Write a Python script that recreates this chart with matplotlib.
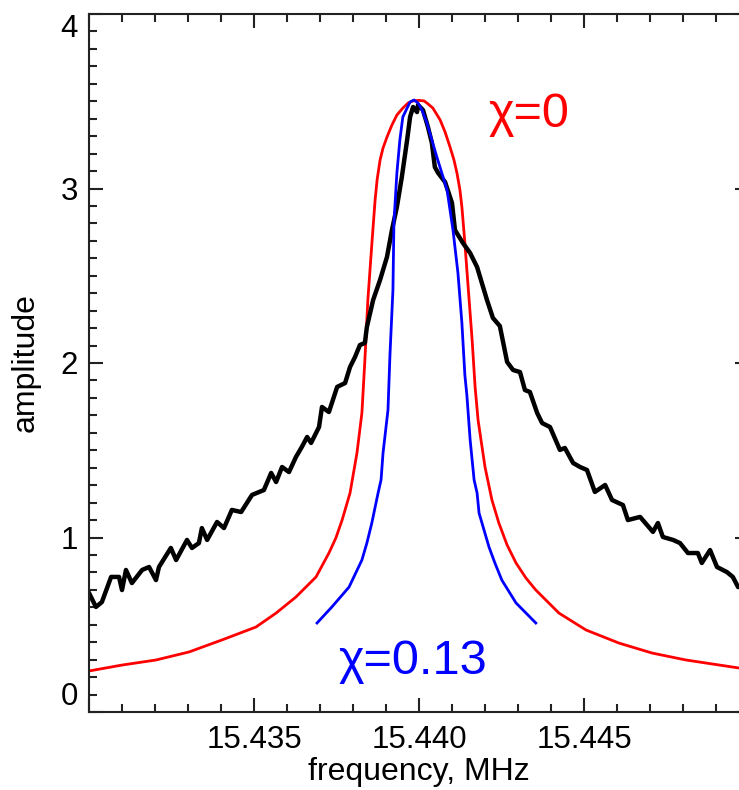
import matplotlib
matplotlib.use("Agg")
import matplotlib.pyplot as plt
from matplotlib.ticker import MultipleLocator

plt.rcParams['font.family'] = ['Liberation Sans', 'DejaVu Sans']

# measured response (black)
freq_meas = [15.43000, 15.43021, 15.43039, 15.43067, 15.43091, 15.43100, 15.43112, 15.43130,
             15.43161, 15.43182, 15.43203, 15.43212, 15.43248, 15.43264, 15.43297, 15.43312,
             15.43333, 15.43342, 15.43358, 15.43388, 15.43409, 15.43433, 15.43461, 15.43494,
             15.43530, 15.43552, 15.43567, 15.43585, 15.43606, 15.43627, 15.43645, 15.43661,
             15.43673, 15.43697, 15.43706, 15.43727, 15.43752, 15.43776, 15.43791, 15.43806,
             15.43821, 15.43836, 15.43842, 15.43861, 15.43882, 15.43903, 15.43918, 15.43933,
             15.43948, 15.43964, 15.43973, 15.43982, 15.43994, 15.43997, 15.44012, 15.44027,
             15.44039, 15.44048, 15.44058, 15.44079, 15.44100, 15.44109, 15.44133, 15.44155,
             15.44176, 15.44185, 15.44206, 15.44224, 15.44245, 15.44267, 15.44285, 15.44306,
             15.44321, 15.44336, 15.44358, 15.44373, 15.44397, 15.44427, 15.44442, 15.44467,
             15.44488, 15.44509, 15.44533, 15.44564, 15.44585, 15.44618, 15.44633, 15.44670,
             15.44709, 15.44724, 15.44739, 15.44770, 15.44791, 15.44815, 15.44845, 15.44857,
             15.44882, 15.44903, 15.44933, 15.44951, 15.44967, 15.44988]
amp_meas = [0.682, 0.602, 0.630, 0.774, 0.774, 0.699, 0.814, 0.739,
            0.814, 0.831, 0.756, 0.831, 0.940, 0.871, 0.986, 0.940,
            0.968, 1.054, 0.986, 1.089, 1.054, 1.158, 1.146, 1.244,
            1.272, 1.370, 1.318, 1.404, 1.375, 1.461, 1.519, 1.576,
            1.542, 1.633, 1.748, 1.719, 1.863, 1.885, 1.977, 2.034,
            2.103, 2.115, 2.206, 2.361, 2.476, 2.608, 2.762, 2.894,
            3.066, 3.278, 3.410, 3.467, 3.438, 3.479, 3.450, 3.353,
            3.261, 3.123, 3.089, 3.037, 2.917, 2.762, 2.688, 2.630,
            2.550, 2.493, 2.361, 2.258, 2.212, 2.006, 1.960, 1.948,
            1.845, 1.834, 1.714, 1.656, 1.633, 1.502, 1.513, 1.427,
            1.404, 1.387, 1.261, 1.301, 1.215, 1.186, 1.100, 1.118,
            1.032, 1.083, 1.003, 0.986, 0.968, 0.911, 0.911, 0.854,
            0.928, 0.831, 0.802, 0.774, 0.716, 0.728]

# model, chi = 0 (red)
freq_chi0 = [15.43000, 15.43100, 15.43203, 15.43303, 15.43403, 15.43506, 15.43567, 15.43627,
             15.43688, 15.43727, 15.43748, 15.43767, 15.43791, 15.43812, 15.43827, 15.43836,
             15.43845, 15.43858, 15.43867, 15.43873, 15.43882, 15.43891, 15.43903, 15.43918,
             15.43933, 15.43951, 15.43967, 15.43982, 15.44000, 15.44015, 15.44024, 15.44042,
             15.44064, 15.44079, 15.44094, 15.44106, 15.44115, 15.44124, 15.44130, 15.44139,
             15.44148, 15.44161, 15.44170, 15.44179, 15.44200, 15.44221, 15.44242, 15.44267,
             15.44294, 15.44324, 15.44354, 15.44424, 15.44506, 15.44606, 15.44706, 15.44809,
             15.44970, 15.45000]
amp_chi0 = [0.235, 0.269, 0.298, 0.344, 0.413, 0.487, 0.567, 0.659,
            0.774, 0.911, 0.997, 1.100, 1.255, 1.484, 1.714, 2.017,
            2.361, 2.705, 2.934, 3.049, 3.163, 3.232, 3.295, 3.364,
            3.421, 3.461, 3.490, 3.502, 3.505, 3.502, 3.490, 3.461,
            3.393, 3.324, 3.238, 3.163, 3.089, 2.992, 2.894, 2.688,
            2.459, 2.132, 1.863, 1.673, 1.404, 1.215, 1.083, 0.957,
            0.854, 0.768, 0.699, 0.567, 0.470, 0.395, 0.338, 0.298,
            0.252, 0.241]

# model, chi = 0.13 (blue)
freq_chi13 = [15.43691, 15.43736, 15.43788, 15.43827, 15.43842, 15.43857, 15.43876, 15.43885,
              15.43891, 15.43906, 15.43912, 15.43921, 15.43924, 15.43933, 15.43942, 15.43951,
              15.43964, 15.43973, 15.43985, 15.43997, 15.44009, 15.44024, 15.44039, 15.44054,
              15.44085, 15.44103, 15.44118, 15.44130, 15.44139, 15.44145, 15.44155, 15.44167,
              15.44176, 15.44182, 15.44212, 15.44230, 15.44251, 15.44294, 15.44354]
amp_chi13 = [0.510, 0.602, 0.716, 0.871, 0.968, 1.083, 1.255, 1.330,
             1.484, 1.731, 2.046, 2.418, 2.802, 3.089, 3.278, 3.410,
             3.461, 3.496, 3.507, 3.490, 3.450, 3.376, 3.278, 3.181,
             2.992, 2.762, 2.516, 2.229, 1.931, 1.817, 1.559, 1.330,
             1.255, 1.140, 0.946, 0.854, 0.756, 0.625, 0.510]

xticks = [15.430, 15.435, 15.440, 15.445, 15.450]
xticklabels = ['', '15.435', '15.440', '15.445', '']
yticks = [0, 1, 2, 3, 4]

fig = plt.figure(figsize=(7.39, 7.90), dpi=100)
ax = fig.add_axes([89 / 739, 78 / 790, 660 / 739, 698 / 790])

ax.plot(freq_chi0, amp_chi0, color='red', lw=2.0)
ax.plot(freq_meas, amp_meas, color='black', lw=3.2)
ax.plot(freq_chi13, amp_chi13, color='blue', lw=2.0)

ax.text(15.44333, 3.35, 'χ=0', color='red', fontsize=35, ha='center', va='baseline')
ax.text(15.43982, 0.215, 'χ=0.13', color='blue', fontsize=35, ha='center', va='baseline')

ax.set_xlim(15.430, 15.450)
ax.set_ylim(0, 4)
ax.set_xticks(xticks)
ax.set_xticklabels(xticklabels)
ax.set_yticks(yticks)
ax.xaxis.set_minor_locator(MultipleLocator(0.001))
ax.yaxis.set_minor_locator(MultipleLocator(0.1))

ax.tick_params(which='both', direction='in', top=True, right=True,
               width=1.5, color='#222222', labelsize=22.5)
ax.tick_params(which='major', length=10)
ax.tick_params(which='minor', length=6)
ax.tick_params(axis='x', pad=9)
ax.tick_params(axis='y', pad=8)

ylabels = ax.get_yticklabels()
ylabels[0].set_va('bottom')
ylabels[-1].set_va('top')

for s in ax.spines.values():
    s.set_linewidth(1.5)
    s.set_color('#222222')

ax.set_xlabel('frequency, MHz', fontsize=23, labelpad=2)
ax.set_ylabel('amplitude', fontsize=23, labelpad=14)

fig.savefig('out.png', dpi=100)
